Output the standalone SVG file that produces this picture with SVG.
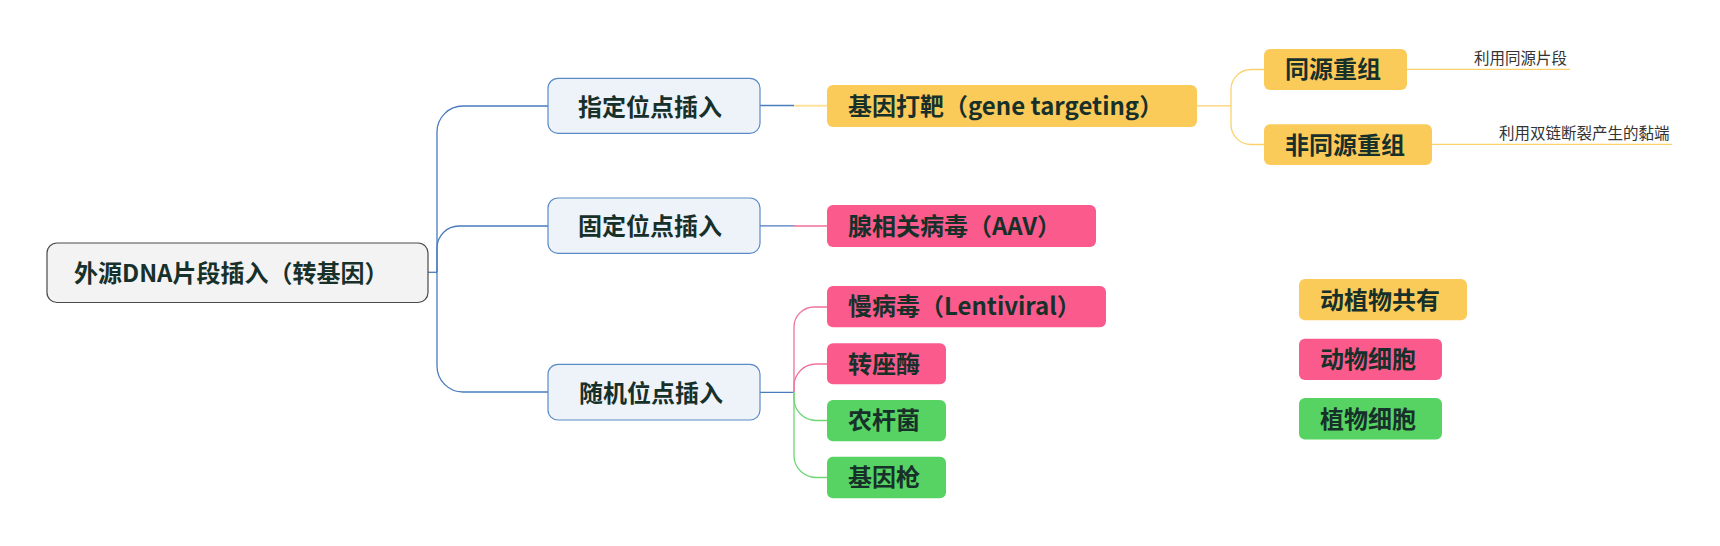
<svg xmlns="http://www.w3.org/2000/svg" width="1720" height="546" viewBox="0 0 1720 546">
<style>
.t{font-family:"Noto Sans CJK SC","Noto Sans",sans-serif;font-weight:bold;font-size:24px;fill:#18302a}
.lb{font-family:"Noto Sans CJK SC","Noto Sans",sans-serif;font-size:15.5px;fill:#333}
.root{fill:#f3f3f3;stroke:#4a4a4a;stroke-width:1.2}
.br{fill:#eef3fa;stroke:#5b8bc6;stroke-width:1.2}
.y{fill:#fbcb5a}
.p{fill:#fb5a8c}
.g{fill:#56d363}
.cb{fill:none;stroke:#4a7bbd;stroke-width:1.3}
.cy{fill:none;stroke:#fcd16c;stroke-width:1.3}
.cp{fill:none;stroke:#f0729c;stroke-width:1.3}
.cg{fill:none;stroke:#6fd676;stroke-width:1.3}
</style>
<rect width="1720" height="546" fill="#ffffff"/>
<g id="connectors">
<path class="cb" d="M428,272.3 H437"/>
<path class="cb" d="M437,272.3 V132 A26,26 0 0 1 463,106 H548"/>
<path class="cb" d="M437,272.3 V248 A22,22 0 0 1 459,226 H548"/>
<path class="cb" d="M437,272.3 V366 A26,26 0 0 0 463,392 H548"/>
<path class="cb" d="M760,105.5 H794"/>
<path d="M794,105.8 H827" fill="none" stroke="#fde39a" stroke-width="2"/>
<path class="cb" d="M760,225.8 H794"/>
<path d="M794,226 H827" fill="none" stroke="#f591b1" stroke-width="2"/>
<path class="cb" d="M760,392.3 H794"/>
<path class="cp" d="M794,392.3 V327 A20,20 0 0 1 814,307 H827"/>
<path class="cp" d="M794,392.3 V386 A22,22 0 0 1 816,364 H827"/>
<path class="cg" d="M794,392.3 V398.5 A22,22 0 0 0 816,420.5 H827"/>
<path class="cg" d="M794,392.3 V455.5 A22,22 0 0 0 816,477.5 H827"/>
<path class="cy" d="M1197,105.8 H1231"/>
<path class="cy" d="M1231,105.8 V89.5 A20,20 0 0 1 1251,69.5 H1264"/>
<path class="cy" d="M1231,105.8 V124.5 A20,20 0 0 0 1251,144.5 H1264"/>
<path class="cy" d="M1407,69.3 H1570"/>
<path class="cy" d="M1432,144.3 H1672"/>
</g>
<g id="root">
<rect class="root" x="47" y="243" width="381" height="59.5" rx="10"/>
<text class="t" x="74" y="282">外源DNA片段插入（转基因）</text>
</g>
<g id="n-zhiding">
<rect class="br" x="548" y="78.3" width="212" height="55" rx="10"/>
<text class="t" x="578" y="115.5">指定位点插入</text>
</g>
<g id="n-guding">
<rect class="br" x="548" y="198" width="212" height="55.3" rx="10"/>
<text class="t" x="578" y="235">固定位点插入</text>
</g>
<g id="n-suiji">
<rect class="br" x="548" y="364.3" width="212" height="55.7" rx="10"/>
<text class="t" x="579" y="401.5">随机位点插入</text>
</g>
<g id="n-jiyindaba">
<rect class="y" x="827" y="85" width="370" height="42" rx="6"/>
<text class="t" x="848" y="114.8">基因打靶（gene targeting）</text>
</g>
<g id="n-aav">
<rect class="p" x="827" y="205" width="269" height="42" rx="6"/>
<text class="t" x="848" y="234.8">腺相关病毒（AAV）</text>
</g>
<g id="n-lenti">
<rect class="p" x="827" y="286" width="279" height="41.3" rx="6"/>
<text class="t" x="848" y="315.3">慢病毒（Lentiviral）</text>
</g>
<g id="n-zhuanzuomei">
<rect class="p" x="827" y="343.3" width="119" height="41" rx="6"/>
<text class="t" x="848" y="372.6">转座酶</text>
</g>
<g id="n-nongganjun">
<rect class="g" x="827" y="400" width="119" height="41.3" rx="6"/>
<text class="t" x="848" y="429.4">农杆菌</text>
</g>
<g id="n-jiyinqiang">
<rect class="g" x="827" y="456.7" width="119" height="41.6" rx="6"/>
<text class="t" x="848" y="486.3">基因枪</text>
</g>
<g id="n-tongyuan">
<rect class="y" x="1264" y="49" width="143" height="41" rx="6"/>
<text class="t" x="1285" y="78.3">同源重组</text>
</g>
<g id="n-feitongyuan">
<rect class="y" x="1264" y="124.3" width="168" height="40.7" rx="6"/>
<text class="t" x="1285" y="153.5">非同源重组</text>
</g>
<g id="label-tongyuan">
<text class="lb" x="1474" y="63.5">利用同源片段</text>
</g>
<g id="label-feitongyuan">
<text class="lb" x="1499" y="139">利用双链断裂产生的黏端</text>
</g>
<g id="legend-both">
<rect class="y" x="1299" y="279" width="168" height="41.3" rx="6"/>
<text class="t" x="1320" y="308.5">动植物共有</text>
</g>
<g id="legend-animal">
<rect class="p" x="1299" y="338.7" width="143" height="41.3" rx="6"/>
<text class="t" x="1320" y="368">动物细胞</text>
</g>
<g id="legend-plant">
<rect class="g" x="1299" y="398" width="143" height="41.5" rx="6"/>
<text class="t" x="1320" y="427.5">植物细胞</text>
</g>
</svg>
